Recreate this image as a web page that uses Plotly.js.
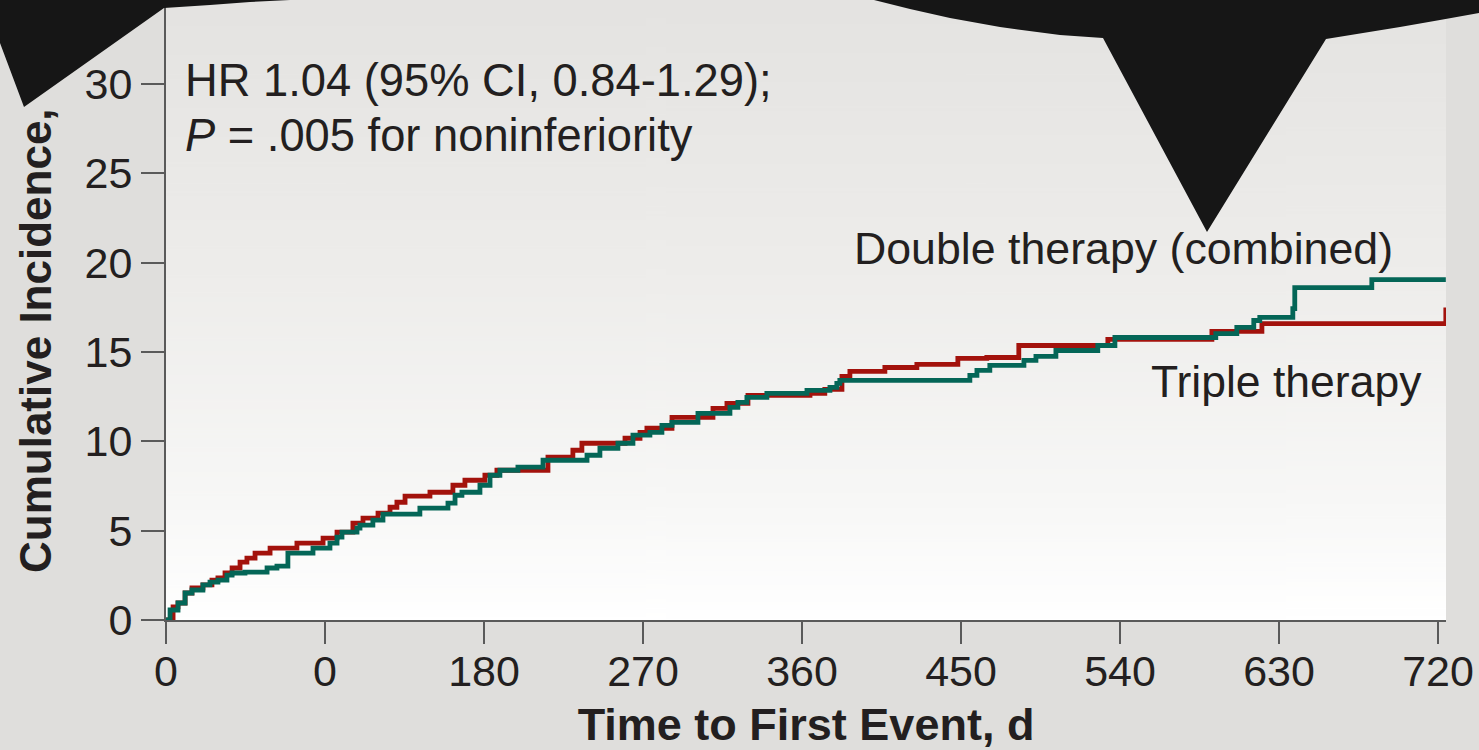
<!DOCTYPE html>
<html>
<head>
<meta charset="utf-8">
<script src="https://cdn.plot.ly/plotly-3.0.1.min.js"></script>
<style>
  html, body { margin: 0; padding: 0; background: #dfdedc; }
  #chart { width: 1479px; height: 750px; }
</style>
</head>
<body>
<div id="chart"></div>
<script>
// ---- Data ----
const tripleDays = [0, 4.0, 6.8, 10.8, 14.7, 20.9, 26.0, 29.4, 33.4, 37.4, 41.9, 45.8, 50.4, 58.9, 74.1, 88.9, 96.8, 105.8, 111.5, 120.0, 126.8, 130.7, 135.3, 149.4, 162.4, 169.2, 180.5, 187.3, 216.2, 230.3, 235.4, 259.8, 268.3, 272.2, 286.4, 309.6, 317.5, 329.4, 364.5, 372.9, 382.6, 387.1, 406.9, 425.0, 448.2, 464.6, 482.7, 533.1, 592.0, 620.3, 724.4];
const tripleInc  = [0, 0.73, 0.95, 1.51, 1.79, 1.96, 2.23, 2.35, 2.63, 2.91, 3.24, 3.46, 3.74, 4.02, 4.30, 4.58, 4.92, 5.42, 5.70, 5.98, 6.31, 6.59, 6.93, 7.15, 7.54, 7.82, 8.10, 8.38, 9.11, 9.50, 9.89, 10.17, 10.50, 10.73, 11.34, 11.84, 12.12, 12.57, 12.68, 12.91, 13.63, 13.91, 14.13, 14.30, 14.64, 14.69, 15.36, 15.70, 16.15, 16.59, 17.49];

const doubleDays = [0, 2.3, 6.8, 10.8, 14.7, 20.9, 24.9, 29.4, 34.5, 37.4, 44.7, 57.2, 62.8, 69.0, 83.2, 92.8, 96.8, 99.6, 108.1, 109.8, 117.1, 122.8, 143.7, 159.6, 163.6, 167.5, 177.7, 183.4, 189.0, 199.2, 213.4, 238.3, 245.6, 255.8, 264.3, 273.9, 280.7, 286.4, 301.1, 319.2, 323.7, 328.8, 340.1, 362.8, 375.8, 379.7, 381.4, 455.0, 459.0, 466.3, 485.6, 492.4, 503.7, 527.4, 537.1, 594.2, 606.1, 615.7, 619.1, 637.8, 638.9, 682.5, 724.4];
const doubleInc  = [0, 0.56, 0.95, 1.51, 1.68, 1.96, 2.12, 2.23, 2.51, 2.63, 2.68, 2.91, 3.02, 3.74, 4.02, 4.30, 4.64, 4.92, 5.14, 5.31, 5.59, 5.92, 6.26, 6.54, 6.98, 7.15, 7.54, 8.10, 8.38, 8.55, 8.94, 9.22, 9.61, 9.89, 10.34, 10.50, 10.89, 11.06, 11.56, 11.90, 12.18, 12.46, 12.68, 12.85, 13.02, 13.24, 13.41, 13.69, 13.97, 14.25, 14.53, 14.75, 15.08, 15.36, 15.81, 16.03, 16.37, 16.76, 16.93, 17.43, 18.60, 19.05, 19.05];

const seriesNames = ['Triple therapy', 'Double therapy (combined)'];
const xTickVals = [0, 90, 180, 270, 360, 450, 540, 630, 720];
const xTickText = ['0', '0', '180', '270', '360', '450', '540', '630', '720'];
const yTickVals = [0, 5, 10, 15, 20, 25, 30];

// ---- Layout geometry (pixels) ----
const W = 1479, H = 750;
const L = 166, R = 1446, T = 0, B = 620;
const px = X => (X - L) / (R - L);
const py = Y => (B - Y) / (B - T);

const FONT = 'Liberation Sans, Arial, Helvetica, sans-serif';
const TXT = '#231f20';

// vertical gradient for plot area background
function gradientURI() {
  const c = document.createElement('canvas');
  c.width = 4; c.height = 512;
  const g = c.getContext('2d');
  const gr = g.createLinearGradient(0, 0, 0, 512);
  gr.addColorStop(0, '#e4e3e1');
  gr.addColorStop(0.45, '#eeedeb');
  gr.addColorStop(0.8, '#f7f7f6');
  gr.addColorStop(1, '#ffffff');
  g.fillStyle = gr;
  g.fillRect(0, 0, 4, 512);
  return c.toDataURL('image/png');
}

function pathFrom(pts) {
  return 'M ' + pts.map(p => px(p[0]).toFixed(5) + ',' + py(p[1]).toFixed(5)).join(' L ') + ' Z';
}
const blobLeft = [[0,0],[290,0],[250,2],[210,5],[164,8],[24,107],[0,43]];
const blobTop = [[874,0],[910,9],[950,18],[1000,27],[1060,35],[1103,38],[1207,232],[1326,39],[1363,33],[1400,27],[1440,20],[1479,13],[1479,0]];

const traces = [
  { x: tripleDays, y: tripleInc, name: seriesNames[0], type: 'scatter', mode: 'lines',
    line: { shape: 'hv', color: '#a3120c', width: 4.8 }, hoverinfo: 'skip' },
  { x: doubleDays, y: doubleInc, name: seriesNames[1], type: 'scatter', mode: 'lines',
    line: { shape: 'hv', color: '#046657', width: 4.8 }, hoverinfo: 'skip' }
];

const layout = {
  width: W, height: H,
  margin: { l: L, r: W - R, t: T, b: H - B, pad: 0 },
  paper_bgcolor: '#dfdedc',
  plot_bgcolor: 'rgba(0,0,0,0)',
  showlegend: false,
  font: { family: FONT, color: TXT, size: 44 },
  xaxis: {
    range: [0, 724.5], showgrid: false, zeroline: false,
    showline: true, linecolor: '#5a5a5a', linewidth: 2,
    ticks: 'outside', ticklen: 22, tickwidth: 2, tickcolor: '#5a5a5a',
    tickmode: 'array', tickvals: xTickVals, ticktext: xTickText,
    tickfont: { family: FONT, size: 43, color: TXT },
    ticklabelstandoff: -10,
    title: { text: '<b>Time to First Event, d</b>', font: { family: FONT, size: 45, color: TXT }, standoff: 26 },
    fixedrange: true
  },
  yaxis: {
    range: [0, (B - T) / 17.87], showgrid: false, zeroline: false,
    showline: true, linecolor: '#5a5a5a', linewidth: 2,
    ticks: 'outside', ticklen: 23, tickwidth: 2, tickcolor: '#5a5a5a',
    tickmode: 'array', tickvals: yTickVals,
    tickfont: { family: FONT, size: 43, color: TXT },
    fixedrange: true
  },
  annotations: [
    { text: '<b>Cumulative Incidence,</b>', textangle: -90, xref: 'paper', yref: 'paper',
      x: px(35), y: py(341), xanchor: 'center', yanchor: 'middle', showarrow: false,
      font: { family: FONT, size: 44, color: TXT } },
    { text: 'HR 1.04 (95% CI, 0.84-1.29);', xref: 'paper', yref: 'paper',
      x: px(183), y: py(81), xanchor: 'left', yanchor: 'middle', showarrow: false,
      font: { family: FONT, size: 45.3, color: TXT } },
    { text: '<i>P</i> = .005 for noninferiority', xref: 'paper', yref: 'paper',
      x: px(183), y: py(135), xanchor: 'left', yanchor: 'middle', showarrow: false,
      font: { family: FONT, size: 45.3, color: TXT } },
    { text: 'Double therapy (combined)', xref: 'paper', yref: 'paper',
      x: px(852), y: py(248), xanchor: 'left', yanchor: 'middle', showarrow: false,
      font: { family: FONT, size: 44.7, color: TXT } },
    { text: 'Triple therapy', xref: 'paper', yref: 'paper',
      x: px(1149), y: py(381), xanchor: 'left', yanchor: 'middle', showarrow: false,
      font: { family: FONT, size: 44.5, color: TXT } }
  ],
  images: [
    { source: gradientURI(), xref: 'paper', yref: 'paper', x: 0, y: 1, sizex: 1, sizey: 1,
      xanchor: 'left', yanchor: 'top', sizing: 'stretch', layer: 'below' }
  ],
  shapes: [
    { type: 'path', xref: 'paper', yref: 'paper', path: pathFrom(blobLeft),
      fillcolor: '#161616', line: { width: 0 }, layer: 'above' },
    { type: 'path', xref: 'paper', yref: 'paper', path: pathFrom(blobTop),
      fillcolor: '#161616', line: { width: 0 }, layer: 'above' }
  ]
};

Plotly.newPlot('chart', traces, layout, { displayModeBar: false, staticPlot: true });
</script>
</body>
</html>
